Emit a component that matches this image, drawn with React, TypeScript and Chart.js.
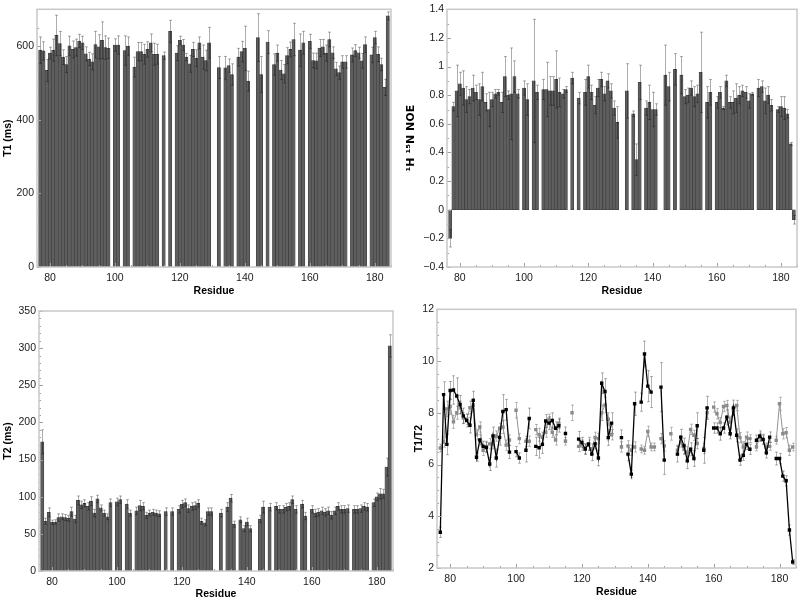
import React, { useEffect, useRef } from "react";
import { Chart, registerables } from "chart.js";
Chart.register(...registerables);

// ---------- data ----------
const residues = Array.from({ length: 108 }, (_, i) => 77 + i); // 77 .. 184
const xTicks = [80, 100, 120, 140, 160, 180];

const t1Values = [
  589, 587, 534, 581, 589, 629, 607, 570, 550, 601,
  591, 596, 614, 609, 579, 565, 557, 604, 598, 616,
  596, 594, null, 603, 603, null, 588, 600, null, 543,
  585, 585, 578, 591, 609, 578, 578, null, 574, null,
  640, null, 581, 616, 603, 570, 552, 591, 567, 609,
  570, 561, 609, null, null, 542, null, 541, 547, 523,
  null, 570, 585, 594, 505, null, null, 623, 523, null,
  611, null, 550, 581, 535, 525, 574, 591, 618, null,
  589, 609, null, 613, 561, 560, 595, 598, 581, 618,
  582, 538, 528, 557, 557, null, 576, 588, 582, 560,
  604, null, 576, 623, 578, 550, 488, 682,
];
const t1Errors = [
  36, 25, 30, 16, 30, 55, 33, 20, 22, 26,
  23, 23, 18, 18, 19, 18, 22, 36, 33, 50,
  32, 28, null, 17, 25, null, 40, 25, null, 27,
  25, 25, 27, 21, 24, 30, 27, null, 10, null,
  30, null, 20, 11, 15, 10, 23, 19, 23, 16,
  33, 28, 42, null, null, 30, null, 31, 18, 29,
  null, 24, 28, 60, 27, null, null, 65, 49, null,
  31, null, 29, 22, 26, 25, 22, 20, 44, null,
  44, 31, null, 19, 20, 21, 23, 20, 22, 20,
  16, 18, 18, 17, 17, null, 19, 16, 15, 20,
  21, null, 21, 17, 20, 17, 22, 11,
];

const noeValues = [
  -0.2, 0.72, 0.83, 0.88, 0.85, 0.77, 0.79, 0.85, 0.82, 0.77,
  0.86, 0.75, 0.7, 0.77, 0.81, 0.82, 0.75, 0.93, 0.8, 0.81,
  0.93, 0.81, null, 0.85, 0.77, null, 0.9, 0.82, null, 0.84,
  0.84, 0.83, 0.83, 0.91, 0.82, 0.81, 0.84, null, 0.92, null,
  0.78, null, 0.82, 0.93, 0.82, 0.73, 0.85, 0.91, 0.81, 0.9,
  0.83, 0.71, 0.61, null, null, 0.83, null, 0.67, 0.35, 0.89,
  null, 0.71, 0.75, 0.7, 0.7, null, null, 0.94, 0.86, null,
  0.98, null, 0.94, 0.79, 0.8, 0.85, 0.79, 0.81, 0.96, null,
  0.75, 0.82, null, 0.75, 0.82, 0.71, 0.9, 0.75, 0.75, 0.78,
  0.8, 0.83, 0.82, 0.76, 0.81, null, 0.85, 0.86, 0.76, 0.8,
  0.73, null, 0.7, 0.72, 0.71, 0.67, 0.46, -0.07,
];
const noeErrors = [
  0.06, 0.03, 0.18, 0.08, 0.12, 0.09, 0.05, 0.09, 0.05, 0.11,
  0.1, 0.06, 0.12, 0.05, 0.03, 0.02, 0.07, 0.14, 0.03, 0.32,
  0.11, 0.03, null, 0.05, 0.11, null, 0.43, 0.05, null, 0.07,
  0.19, 0.1, 0.1, 0.2, 0.1, 0.03, 0.02, null, 0.04, null,
  0.04, null, 0.09, 0.08, 0.05, 0.06, 0.06, 0.05, 0.05, 0.05,
  0.05, 0.05, 0.11, null, null, 0.19, null, 0.02, 0.11, 0.12,
  null, 0.05, 0.12, 0.12, 0.04, null, null, 0.21, 0.1, null,
  0.11, null, 0.13, 0.05, 0.05, 0.05, 0.07, 0.06, 0.28, null,
  0.11, 0.09, null, 0.04, 0.04, 0.01, 0.04, 0.04, 0.08, 0.1,
  0.06, 0.04, 0.04, 0.05, 0.01, null, 0.06, 0.04, 0.09, 0.06,
  0.04, null, 0.02, 0.07, 0.08, 0.03, 0.01, 0.03,
];

const t2Values = [
  174, 67, 79, 65.5, 66, 72, 73, 72, 71, 80,
  70, 95, 89, 91, 87, 94, 78, 97, 85, 78,
  73, 92, null, 93, 96, null, 90, 78, null, 81,
  88, 87, 75, 78, 79, 78, 77, null, 80, null,
  80, null, 83, 90, 92, 84, 87, 88, 91, 67,
  65, 80, 80, null, null, 78, null, 86, 98, 63,
  null, 69, 57, 66, 57, null, null, 70, 86, null,
  86, null, 87, 83, 83, 86, 87, 96, 83, null,
  90, 74, null, 83, 78, 79, 81, 79, 81, 75,
  81, 87, 83, 83, 84, null, 83, 83, 84, 87,
  86, null, 92, 100, 104, 104, 140, 303,
];
const t2Errors = [
  16, 4, 6, 3, 3, 5, 4, 4, 4, 6,
  5, 6, 5, 5, 5, 6, 5, 5, 4, 4,
  4, 5, null, 5, 5, null, 6, 4, null, 5,
  7, 5, 4, 4, 4, 4, 4, null, 5, null,
  5, null, 5, 5, 5, 5, 5, 5, 5, 4,
  4, 5, 5, null, null, 5, null, 6, 5, 4,
  null, 4, 4, 5, 4, null, null, 5, 8, null,
  5, null, 5, 5, 5, 5, 5, 5, 5, null,
  5, 5, null, 5, 5, 5, 5, 5, 5, 5,
  5, 5, 5, 5, 5, null, 5, 5, 5, 5,
  5, null, 5, 5, 7, 6, 12, 15,
];

const ratioBlack = [
  3.38, 8.7, 6.78, 8.86, 8.88, 8.65, 8.32, 7.88, 7.7, 7.52,
  8.48, 6.28, 6.95, 6.7, 6.66, 6.02, 7.1, 6.25, 7.05, 8.05,
  8.12, 6.48, null, 6.5, 6.25, null, 6.55, 7.78, null, 6.7,
  6.65, 6.78, 7.68, 7.6, 7.7, 7.4, 7.5, null, 7.2, null,
  null, null, 6.98, 6.85, 6.6, 6.8, 6.4, 6.8, 6.25, 9.14,
  8.82, 7.04, 7.6, null, null, 7.04, null, 6.4, 5.63, 8.35,
  null, 8.41, 10.27, 9.03, 8.8, null, null, 8.99, 6.17, null,
  null, null, 6.4, 7.06, 6.72, 6.14, 6.59, 6.23, 7.5, null,
  6.55, 8.19, null, 7.41, 7.41, 7.19, 7.41, 7.83, 7.19, 8.19,
  7.13, 6.17, 6.36, 6.78, 6.59, null, 6.94, 7.1, 6.97, 6.45,
  7.06, null, 6.23, 6.23, 5.55, 5.37, 3.47, 2.23,
];
const ratioBlackErrors = [
  0.2, 0.5, 0.4, 0.35, 0.55, 0.7, 0.35, 0.3, 0.25, 0.3,
  0.35, 0.15, 0.2, 0.2, 0.2, 0.25, 0.35, 0.35, 0.3, 0.65,
  0.4, 0.25, null, 0.2, 0.2, null, 0.45, 0.4, null, 0.35,
  0.4, 0.35, 0.25, 0.25, 0.3, 0.25, 0.25, null, 0.25, null,
  null, null, 0.3, 0.2, 0.2, 0.25, 0.25, 0.2, 0.3, 0.4,
  0.5, 0.3, 0.4, null, null, 0.3, null, 0.25, 0.15, 0.45,
  null, 0.35, 0.5, 0.6, 0.6, null, null, 0.95, 0.55, null,
  null, null, 0.3, 0.3, 0.3, 0.3, 0.25, 0.3, 0.5, null,
  0.5, 0.45, null, 0.2, 0.2, 0.25, 0.2, 0.3, 0.2, 0.3,
  0.25, 0.2, 0.2, 0.2, 0.2, null, 0.2, 0.2, 0.2, 0.2,
  0.2, null, 0.25, 0.2, 0.2, 0.2, 0.2, 0.1,
];

const ratioGrey = [
  6.64, 6.87, 8.15, 8.24, 7.65, 8.0, 8.2, 7.8, 7.75, 8.2,
  8.3, 7.15, 7.45, 6.55, 6.7, 6.8, 6.8, 7.1, 7.4, 7.45,
  6.75, 6.95, null, 8.1, 7.0, null, 6.9, 6.9, null, 7.35,
  7.15, 7.05, 7.25, 7.75, 7.25, 6.95, 7.6, null, 6.9, null,
  8.0, null, 6.7, 6.75, 6.6, 6.75, 6.6, 7.05, 7.0, 8.0,
  8.3, 7.75, 7.15, null, null, 6.68, null, 6.72, 6.55, 6.68,
  null, 6.6, 6.55, 7.28, 6.68, 6.68, null, 7.0, 6.72, null,
  7.19, null, 6.55, 6.87, 6.59, 6.49, 7.36, 7.13, 6.81, null,
  6.62, 8.0, null, 8.22, 7.96, 7.62, 8.24, 8.28, 7.64, 8.09,
  8.28, 7.04, 6.68, 7.06, 7.0, null, 6.68, 7.06, 6.96, 6.68,
  6.7, null, 6.94, 8.35, 7.19, 7.23, 6.55, 6.68,
];
const ratioGreyErrors = [
  0.15, 0.2, 0.3, 0.3, 0.25, 0.25, 0.25, 0.2, 0.2, 0.25,
  0.25, 0.2, 0.2, 0.2, 0.2, 0.2, 0.2, 0.2, 0.2, 0.25,
  0.2, 0.2, null, 0.3, 0.2, null, 0.2, 0.2, null, 0.2,
  0.25, 0.2, 0.2, 0.2, 0.2, 0.2, 0.2, null, 0.15, null,
  0.3, null, 0.2, 0.2, 0.2, 0.2, 0.2, 0.2, 0.2, 0.3,
  0.3, 0.25, 0.2, null, null, 0.2, null, 0.2, 0.2, 0.2,
  null, 0.15, 0.15, 0.2, 0.15, 0.15, null, 0.2, 0.2, null,
  0.25, null, 0.2, 0.2, 0.2, 0.2, 0.2, 0.2, 0.2, null,
  0.2, 0.2, null, 0.2, 0.2, 0.2, 0.2, 0.2, 0.2, 0.2,
  0.2, 0.2, 0.2, 0.2, 0.15, null, 0.15, 0.15, 0.15, 0.15,
  0.15, null, 0.15, 0.25, 0.2, 0.2, 0.2, 0.15,
];

// ---------- styling helpers ----------
const FAMILY = "'Liberation Sans', Arial, sans-serif";
const tickFont = { family: FAMILY, size: 10.5 };
const titleFont = { family: FAMILY, size: 10.5, weight: "bold" as const };
const noeTitleFont = { family: "'DejaVu Sans', sans-serif", size: 11, weight: "bold" as const };

const errorBars = {
  id: "errorBars",
  draw(chart: any) {
    const { ctx, chartArea } = chart;
    const xs = chart.scales.x;
    const ys = chart.scales.y;
    ctx.save();
    ctx.beginPath();
    ctx.rect(chartArea.left, chartArea.top, chartArea.right - chartArea.left, chartArea.bottom - chartArea.top);
    ctx.clip();
    chart.data.datasets.forEach((ds: any) => {
      if (!ds.errors) return;
      ctx.strokeStyle = ds.errorColor || "rgba(0,0,0,0.3)";
      ctx.lineWidth = 1;
      const cap = ds.capWidth ?? 1.5;
      ds.data.forEach((p: any, i: number) => {
        const e = ds.errors[i];
        if (p.y == null || e == null) return;
        const x = Math.round(xs.getPixelForValue(p.x)) + 0.5;
        const yt = ys.getPixelForValue(p.y + e);
        const yb = ys.getPixelForValue(p.y - e);
        ctx.beginPath();
        ctx.moveTo(x, yt);
        ctx.lineTo(x, yb);
        ctx.moveTo(x - cap, yt);
        ctx.lineTo(x + cap, yt);
        ctx.moveTo(x - cap, yb);
        ctx.lineTo(x + cap, yb);
        ctx.stroke();
      });
    });
    ctx.restore();
  },
  beforeDatasetsDraw(chart: any) {
    if (chart.config.type === "line") this.draw(chart);
  },
  afterDatasetsDraw(chart: any) {
    if (chart.config.type !== "line") this.draw(chart);
  },
};

const frameAndMinor = {
  id: "frameAndMinor",
  afterDraw(chart: any, _args: any, opts: any) {
    const { ctx, chartArea } = chart;
    const xs = chart.scales.x;
    const ys = chart.scales.y;
    ctx.save();
    ctx.strokeStyle = "#a0a0a0";
    ctx.lineWidth = 1;
    if (opts && opts.xStep) {
      for (let v = Math.ceil(xs.min / opts.xStep) * opts.xStep; v <= xs.max; v += opts.xStep) {
        const px = Math.round(xs.getPixelForValue(v)) + 0.5;
        const len = v % 20 === 0 ? 4 : 2;
        ctx.beginPath();
        ctx.moveTo(px, chartArea.bottom);
        ctx.lineTo(px, chartArea.bottom - len);
        ctx.stroke();
      }
    }
    if (opts && opts.yStep) {
      const n = Math.round((ys.max - ys.min) / opts.yStep);
      for (let k = 0; k <= n; k++) {
        const v = ys.min + k * opts.yStep;
        const py = Math.round(ys.getPixelForValue(v)) + 0.5;
        const major = opts.yMajor ? Math.abs(v / opts.yMajor - Math.round(v / opts.yMajor)) < 1e-6 : false;
        ctx.beginPath();
        ctx.moveTo(chartArea.left, py);
        ctx.lineTo(chartArea.left + (major ? 4 : 2), py);
        ctx.stroke();
      }
    }
    ctx.strokeStyle = "#c8c8c8";
    ctx.lineWidth = 1.5;
    ctx.strokeRect(chartArea.left, chartArea.top, chartArea.right - chartArea.left, chartArea.bottom - chartArea.top);
    ctx.restore();
  },
};

function xAxis(h: number, titlePad: number) {
  return {
    type: "linear",
    min: 76,
    max: 185,
    offset: false,
    grid: { display: false, drawTicks: false },
    border: { display: false },
    ticks: { font: tickFont, color: "#1a1a1a", padding: 5, maxRotation: 0 },
    afterBuildTicks: (s: any) => {
      s.ticks = xTicks.map((v) => ({ value: v }));
    },
    afterFit: (s: any) => {
      s.height = h;
    },
    title: {
      display: true,
      text: "Residue",
      color: "#000",
      font: titleFont,
      padding: { top: 0, bottom: titlePad },
    },
  };
}

function fmt(v: number) {
  if (Math.abs(v) < 1e-9) return "0";
  const s = String(Number(v.toFixed(2)));
  return s.replace("-", "\u2212");
}

function yAxis(w: number, min: number, max: number, step: number, title: string, titlePad: number, tFont: any) {
  return {
    type: "linear",
    min,
    max,
    grid: { display: false, drawTicks: false },
    border: { display: false },
    ticks: {
      font: tickFont,
      color: "#1a1a1a",
      padding: 3,
      stepSize: step,
      includeBounds: false,
      callback: (v: any) => fmt(Number(v)),
    },
    afterFit: (s: any) => {
      s.width = w;
    },
    title: {
      display: true,
      text: title,
      color: "#000",
      font: tFont,
      padding: { top: titlePad, bottom: 0 },
    },
  };
}

const common = {
  responsive: false,
  maintainAspectRatio: false,
  animation: false,
  devicePixelRatio: 1,
  events: [],
};

function barDataset(values: (number | null)[], errors: (number | null)[]) {
  return {
    type: "bar",
    data: residues.map((r, i) => ({ x: r, y: values[i] })),
    backgroundColor: "#5e5e5e",
    borderColor: "#3a3a3a",
    borderWidth: 0.6,
    borderSkipped: false,
    barPercentage: 1,
    categoryPercentage: 1,
    errors,
    errorColor: "rgba(0,0,0,0.32)",
    capWidth: 1.5,
  };
}

function barConfig(
  values: (number | null)[],
  errors: (number | null)[],
  pad: any,
  yw: number,
  xh: number,
  ymin: number,
  ymax: number,
  ystep: number,
  title: string,
  ytitlePad: number,
  xtitlePad: number,
  minor: any,
  tFont: any
) {
  return {
    type: "bar",
    data: { datasets: [barDataset(values, errors)] },
    options: {
      ...common,
      layout: { padding: pad },
      plugins: { legend: { display: false }, tooltip: { enabled: false }, frameAndMinor: minor },
      scales: {
        x: xAxis(xh, xtitlePad),
        y: yAxis(yw, ymin, ymax, ystep, title, ytitlePad, tFont),
      },
    },
    plugins: [errorBars, frameAndMinor],
  };
}

function ratioConfig() {
  return {
    type: "line",
    data: {
      datasets: [
        {
          data: residues.map((r, i) => ({ x: r, y: ratioBlack[i] })),
          borderColor: "#000",
          backgroundColor: "#000",
          borderWidth: 1.3,
          pointStyle: "rect",
          pointRadius: 2.4,
          pointBorderWidth: 0,
          spanGaps: false,
          tension: 0,
          errors: ratioBlackErrors,
          errorColor: "rgba(0,0,0,0.3)",
          capWidth: 1.5,
        },
        {
          data: residues.map((r, i) => ({ x: r, y: ratioGrey[i] })),
          borderColor: "#939393",
          backgroundColor: "#8a8a8a",
          borderWidth: 1,
          pointStyle: "rect",
          pointRadius: 2.4,
          pointBorderWidth: 0,
          spanGaps: false,
          tension: 0,
          errors: ratioGreyErrors,
          errorColor: "rgba(0,0,0,0.25)",
          capWidth: 1.5,
        },
      ],
    },
    options: {
      ...common,
      layout: { padding: { top: 8, right: 2, left: 0, bottom: 0 } },
      plugins: {
        legend: { display: false },
        tooltip: { enabled: false },
        frameAndMinor: { xStep: 5, yStep: 0.5, yMajor: 2 },
      },
      scales: {
        x: xAxis(33, 2.5),
        y: yAxis(37, 2, 12, 2, "T1/T2", 12.5, titleFont),
      },
    },
    plugins: [errorBars, frameAndMinor],
  };
}

function Panel(props: { left: number; top: number; width: number; height: number; build: () => any }) {
  const ref = useRef<HTMLCanvasElement>(null);
  useEffect(() => {
    const chart = new Chart(ref.current as HTMLCanvasElement, props.build());
    return () => chart.destroy();
  }, []);
  return (
    <canvas
      ref={ref}
      width={props.width}
      height={props.height}
      style={{ position: "absolute", left: props.left, top: props.top, width: props.width, height: props.height }}
    />
  );
}

export default function App() {
  return (
    <div style={{ position: "absolute", left: 0, top: 0, width: 800, height: 601, background: "#fff" }}>
      <Panel
        left={0}
        top={0}
        width={400}
        height={300}
        build={() =>
          barConfig(t1Values, t1Errors, { top: 2, right: 9, left: 0, bottom: 0 }, 37, 33, 0, 700, 200, "T1 (ms)", 2, 2.5, {
            xStep: 5,
            yStep: 50,
            yMajor: 200,
          }, titleFont)
        }
      />
      <Panel
        left={400}
        top={0}
        width={400}
        height={300}
        build={() =>
          barConfig(noeValues, noeErrors, { top: 7, right: 3, left: 0, bottom: 0 }, 47, 33, -0.4, 1.4, 0.2, "\u00b9H \u00b9\u2075N NOE", 4.5, 2.5, {
            xStep: 5,
            yStep: 0.1,
            yMajor: 0.2,
          }, noeTitleFont)
        }
      />
      <Panel
        left={0}
        top={300}
        width={400}
        height={301}
        build={() =>
          barConfig(t2Values, t2Errors, { top: 11, right: 7, left: 0, bottom: 0 }, 39, 30, 0, 350, 50, "T2 (ms)", 2, 0.5, {
            xStep: 5,
            yStep: 10,
            yMajor: 50,
          }, titleFont)
        }
      />
      <Panel left={400} top={300} width={400} height={301} build={ratioConfig} />
    </div>
  );
}
